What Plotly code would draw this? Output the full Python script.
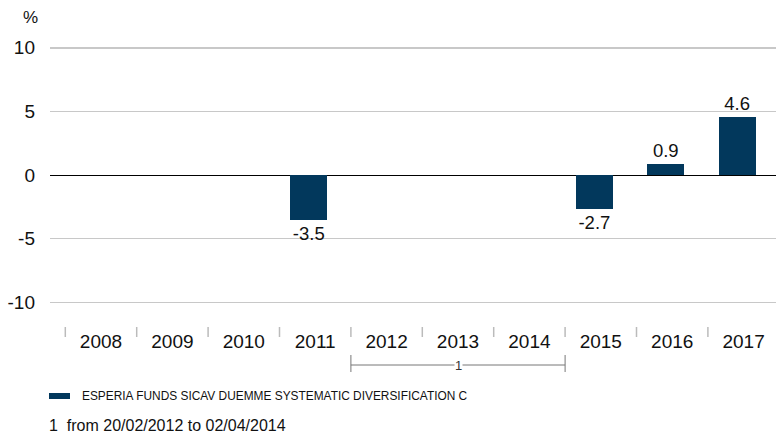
import plotly.graph_objects as go

years = ["2008", "2009", "2010", "2011", "2012", "2013", "2014", "2015", "2016", "2017"]
values = [None, None, None, -3.5, None, None, None, -2.7, 0.9, 4.6]
series_name = "ESPERIA FUNDS SICAV DUEMME SYSTEMATIC DIVERSIFICATION C"
y_ticks = [-10, -5, 0, 5, 10]
bracket_start, bracket_end = "2012", "2014"
bracket_label = "1"
footnote = "1  from 20/02/2012 to 02/04/2014"

W, H = 776, 439
BAR = "#02385C"
FONT = "Liberation Sans, Arial, sans-serif"
CAT = 71.4          # pixels per category
FIRST_CENTER = 101  # page x of first category centre

def px_x(p):
    return p / W

def px_y(p):
    return (H - p) / H

idx = list(range(len(years)))
labels = ["" if v is None else f"{v:.1f}" for v in values]

fig = go.Figure()
fig.add_trace(go.Bar(
    x=idx, y=values, width=0.52, offset=-0.35,
    marker=dict(color=BAR, line=dict(width=0)),
    text=labels, textposition="outside", cliponaxis=False,
    textfont=dict(size=18.5, color="#111", family=FONT),
    showlegend=False, hoverinfo="skip",
))

shapes = []
# category separator ticks
for i in idx:
    shapes.append(dict(type="line", xref="x", yref="paper", x0=i - 0.5, x1=i - 0.5,
                       y0=px_y(327), y1=px_y(337), line=dict(color="#bbbbbb", width=1.5)))
# bracket
b0 = years.index(bracket_start) - 0.5
b1 = years.index(bracket_end) + 0.5
for bx in (b0, b1):
    shapes.append(dict(type="line", xref="x", yref="paper", x0=bx, x1=bx,
                       y0=px_y(355), y1=px_y(372), line=dict(color="#777", width=1)))
shapes.append(dict(type="line", xref="x", yref="paper", x0=b0, x1=b1,
                   y0=px_y(365), y1=px_y(365), line=dict(color="#777", width=1)))
# legend swatch
shapes.append(dict(type="rect", xref="paper", yref="paper", x0=px_x(49), x1=px_x(70),
                   y0=px_y(399), y1=px_y(393), fillcolor=BAR, line=dict(width=0)))

annotations = [
    dict(x=(b0 + b1) / 2, y=px_y(365), xref="x", yref="paper", text=bracket_label,
         showarrow=False, font=dict(size=13, color="#333", family=FONT),
         bgcolor="white", borderpad=0, xanchor="center", yanchor="middle"),
    dict(x=px_x(80), y=px_y(396), xref="paper", yref="paper", text=series_name,
         showarrow=False, font=dict(size=11.9, color="#111", family=FONT),
         xanchor="left", yanchor="middle"),
    dict(x=px_x(47), y=px_y(425), xref="paper", yref="paper", text=footnote,
         showarrow=False, font=dict(size=16, color="#111", family=FONT),
         xanchor="left", yanchor="middle"),
    dict(x=px_x(30), y=px_y(18), xref="paper", yref="paper", text="%",
         showarrow=False, font=dict(size=17, color="#111", family=FONT),
         xanchor="center", yanchor="middle"),
]

x_left = -0.5 - (FIRST_CENTER - 0.5 * CAT - 50) / CAT
x_right = (W - FIRST_CENTER) / CAT

fig.update_layout(
    width=W, height=H,
    margin=dict(l=0, r=0, t=0, b=0, pad=0),
    paper_bgcolor="white", plot_bgcolor="white",
    font=dict(family=FONT, color="#111"),
    bargap=0,
    shapes=shapes, annotations=annotations,
    xaxis=dict(
        domain=[px_x(50), 1], range=[x_left, x_right],
        tickmode="array", tickvals=idx, ticktext=years,
        tickfont=dict(size=19, color="#111", family=FONT),
        showgrid=False, zeroline=False, showline=False, ticks="",
        anchor="free", position=px_y(328), fixedrange=True, automargin=False,
    ),
    yaxis=dict(
        domain=[px_y(306.2), px_y(30)], range=[-10.3, 11.4],
        tickmode="array", tickvals=y_ticks, ticktext=[str(t) for t in y_ticks],
        tickfont=dict(size=19, color="#111", family=FONT),
        showgrid=True, gridcolor="#c8c8c8", gridwidth=1.5,
        zeroline=True, zerolinecolor="#000", zerolinewidth=1,
        showline=False, ticks="", ticklabelstandoff=14, fixedrange=True,
        automargin=False,
    ),
)

fig.write_html(
    "out.html",
    config={"displayModeBar": False, "staticPlot": True},
    post_script="document.body.style.margin='0';"
                "document.body.style.overflow='hidden';"
                "document.documentElement.style.overflow='hidden';",
)
